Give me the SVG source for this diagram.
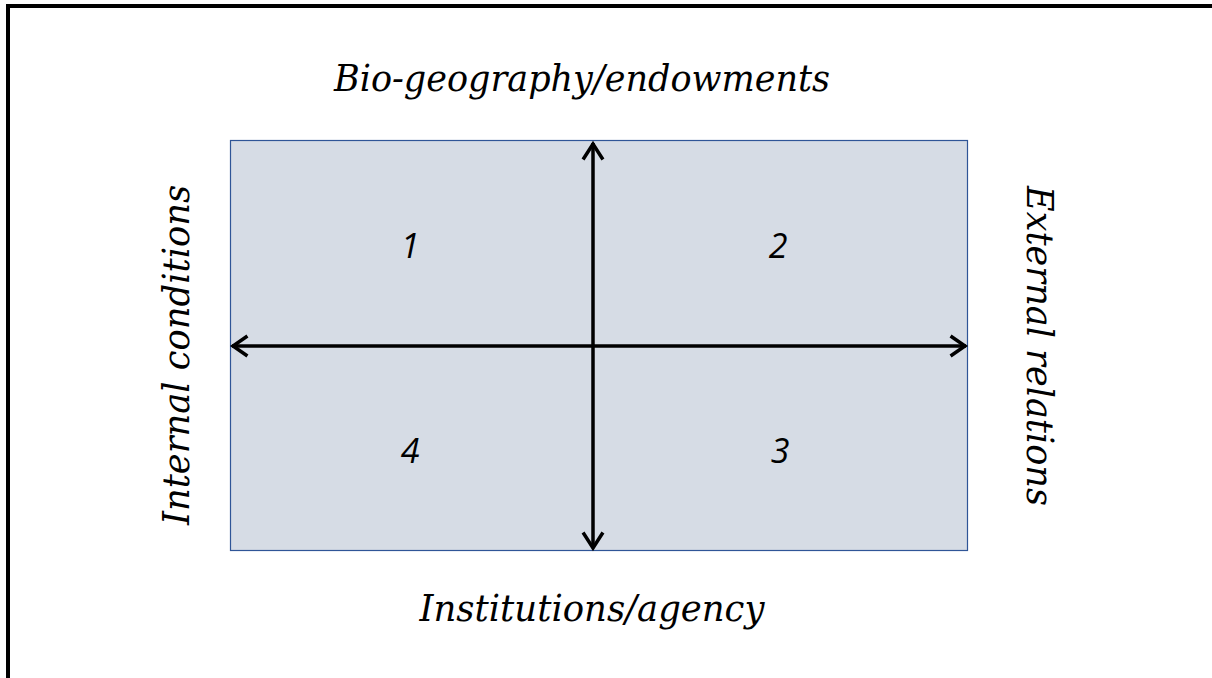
<svg xmlns="http://www.w3.org/2000/svg" width="1212" height="678" viewBox="0 0 1212 678">
<style>
.lbl{font-family:"DejaVu Serif","Liberation Serif",serif;font-style:italic;font-size:38px;fill:#000}
.num{font-family:"Open Sans","Liberation Sans",sans-serif;font-style:italic;font-size:34px;fill:#000}
.axis{stroke:#000;stroke-width:3.5;fill:none}
.head{stroke:#000;stroke-width:3.5;fill:none;stroke-linecap:square;stroke-linejoin:miter}
</style>
<rect width="1212" height="678" fill="#fff"/>
<g id="frame"><path d="M8 678 V6 H1212" fill="none" stroke="#000" stroke-width="4"/></g>
<g id="quadrant"><rect x="230.5" y="140.5" width="737" height="410" fill="#d6dce5" stroke="#2f5597" stroke-width="1.2"/></g>
<g id="connectors">
<line class="axis" x1="593" y1="143" x2="593" y2="548"/>
<line class="axis" x1="232" y1="346" x2="966" y2="346"/>
<polyline class="head" points="584,158 593,144 602,158"/>
<polyline class="head" points="584,534 593,548 602,534"/>
<polyline class="head" points="246,337 233,346 246,355"/>
<polyline class="head" points="952,337 965,346 952,355"/>
</g>
<g id="n1"><text class="num" x="410" y="258" text-anchor="middle">1</text></g>
<g id="n2"><text class="num" x="778" y="258" text-anchor="middle">2</text></g>
<g id="n3"><text class="num" x="780" y="463" text-anchor="middle">3</text></g>
<g id="n4"><text class="num" x="410" y="463" text-anchor="middle">4</text></g>
<g id="top"><text class="lbl" x="582" y="91" text-anchor="middle" textLength="496" lengthAdjust="spacingAndGlyphs">Bio-geography/endowments</text></g>
<g id="bottom"><text class="lbl" x="592" y="621" text-anchor="middle" textLength="345" lengthAdjust="spacingAndGlyphs">Institutions/agency</text></g>
<g id="left"><text class="lbl" transform="translate(189,355) rotate(-90)" text-anchor="middle" textLength="340" lengthAdjust="spacingAndGlyphs">Internal conditions</text></g>
<g id="right"><text class="lbl" transform="translate(1027,346) rotate(90)" text-anchor="middle" textLength="320" lengthAdjust="spacingAndGlyphs">External relations</text></g>
</svg>
